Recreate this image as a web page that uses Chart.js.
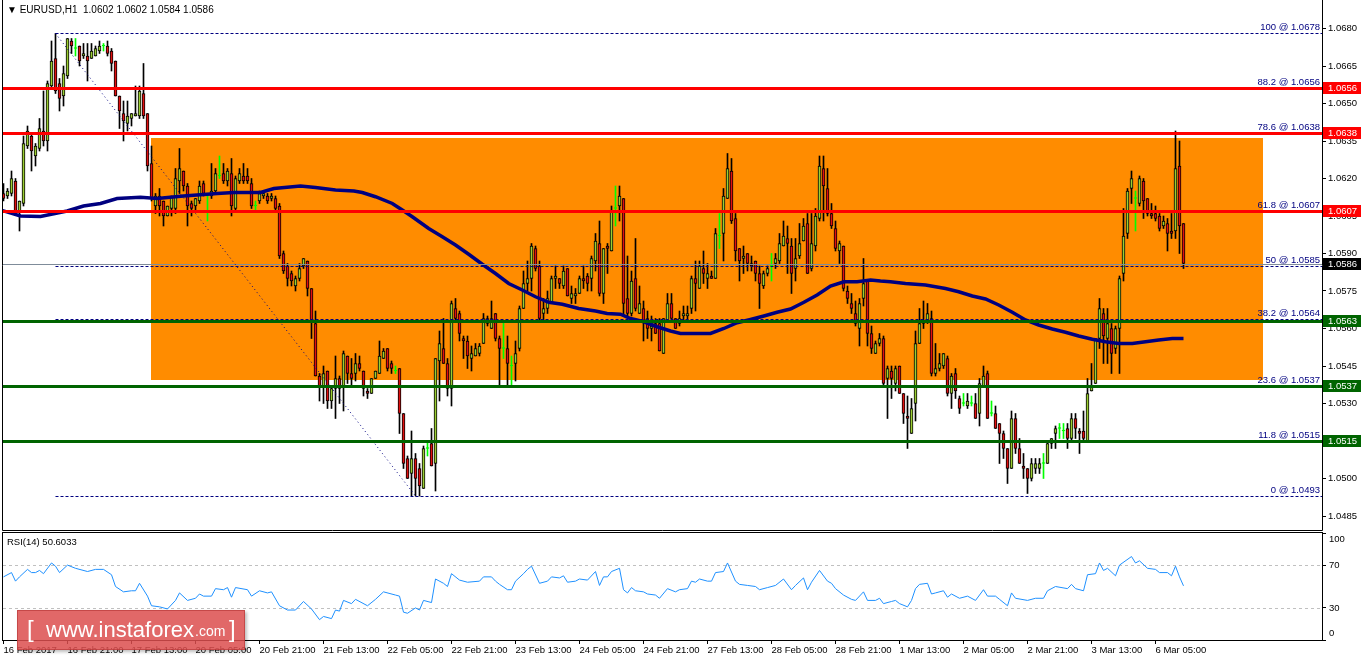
<!DOCTYPE html>
<html><head><meta charset="utf-8">
<script src="https://cdn.jsdelivr.net/npm/chart.js@4.4.1/dist/chart.umd.min.js"></script>
<style>
html,body{margin:0;padding:0;background:#fff;}
#wrap{position:relative;width:1362px;height:661px;overflow:hidden;font-family:"Liberation Sans",Arial,sans-serif;}
canvas{position:absolute;left:0;}
#c1{top:0;}
#c2{top:531px;}
.t{position:absolute;white-space:nowrap;color:#000;}
#wm{position:absolute;left:17px;top:610px;width:226px;height:38px;background:rgba(220,78,78,0.85);border:1px solid rgba(170,40,40,0.5);box-shadow:2px 2px 3px rgba(0,0,0,0.25);color:#fff;font-family:"Liberation Sans",Arial,sans-serif;}
#wm span{position:absolute;white-space:nowrap;}
</style></head><body>
<div id="wrap">
<canvas id="c1" width="1362" height="531"></canvas>
<canvas id="c2" width="1362" height="130"></canvas>
<div class="t" id="title" style="left:7px;top:4px;font-size:10px;"></div>
<div class="t" id="rsiLabel" style="left:7px;top:536px;font-size:9.5px;"></div>
<div id="wm"><span style="left:9px;top:4px;font-size:24px;font-weight:300;">[</span><span style="left:28px;top:6px;font-size:22px;">www.instaforex</span><span style="left:177px;top:12px;font-size:14px;">.com</span><span style="left:211px;top:4px;font-size:24px;font-weight:300;">]</span></div>
</div>
<script>
// ---------- DATA (prices in pips above 1.0000, e.g. 613 = 1.0613) ----------
const symbol = "EURUSD,H1";
const opens = [614,613,614,619,607,610,633,637,629,632,639,635,657,668,658,653,661,675,672,673,669,669,668,669,671,673,673,671,667,653,646,642,644,645,645,654,646,626,609,613,611,605,608,608,619,623,617,610,609,611,618,613,613,615,621,622,619,622,608,619,621,621,618,609,611,613,613,612,612,609,590,585,582,577,580,585,587,576,562,541,537,543,531,536,540,537,549,542,542,546,543,535,534,540,542,548,552,546,543,544,526,508,502,508,504,496,512,514,506,547,552,546,536,568,566,556,555,548,549,550,554,562,560,566,556,552,552,545,546,552,568,578,580,592,585,566,568,570,580,580,577,584,572,573,574,580,581,580,587,594,574,593,591,608,609,612,572,566,580,566,568,564,560,562,562,550,563,570,564,562,565,565,568,580,576,584,580,581,580,597,598,612,623,604,592,588,590,586,587,582,577,582,585,586,587,593,596,593,584,589,595,602,584,593,604,624,616,606,600,591,593,575,570,566,560,572,579,558,550,554,556,540,543,538,545,534,525,518,530,554,562,563,564,542,544,545,548,534,542,532,530,529,530,530,526,537,542,526,526,522,518,512,504,524,512,505,504,500,504,504,506,506,514,518,520,519,520,516,524,519,519,515,535,538,556,566,556,560,552,560,582,598,616,612,610,619,612,606,606,605,601,602,599,599,625,602];
const highs = [618,616,623,620,611,637,641,638,634,644,655,659,675,678,660,665,676,676,676,673,674,674,674,673,675,674,675,672,667,653,651,651,646,657,657,666,646,633,614,616,611,609,613,624,632,623,618,611,612,619,619,614,626,624,629,626,624,628,621,624,626,624,620,611,615,615,614,614,613,610,591,586,583,581,586,588,587,576,567,542,545,543,537,549,541,551,549,548,550,549,543,536,540,543,555,552,552,547,545,544,526,509,519,510,506,513,515,520,548,559,564,548,571,572,567,557,557,553,554,554,566,565,571,566,557,563,557,549,555,569,583,587,594,593,587,572,575,581,585,580,585,584,577,576,581,585,582,589,598,603,592,594,609,617,617,612,589,583,596,577,571,567,565,564,564,564,574,574,564,567,569,569,581,587,587,591,586,583,600,606,616,630,628,606,592,593,590,589,587,585,583,585,590,590,598,603,601,596,596,602,604,606,606,608,629,629,624,610,603,595,593,577,574,571,572,588,579,561,555,558,557,545,545,545,545,534,533,532,559,568,571,570,567,554,550,550,549,542,544,533,534,534,533,534,540,545,543,531,529,522,519,512,527,526,516,510,504,508,508,508,510,515,516,521,522,522,522,526,526,520,527,540,546,556,572,568,568,562,561,581,608,616,623,615,621,620,612,610,609,606,605,604,606,639,635,602];
const lows = [611,612,613,606,599,609,632,623,625,631,633,631,656,654,647,649,660,670,669,665,668,659,668,669,670,671,669,663,653,640,635,639,641,645,644,644,623,611,606,605,601,605,605,606,614,615,601,605,607,610,613,603,612,614,620,618,617,605,607,618,618,618,608,607,610,612,610,611,607,588,582,577,577,575,579,584,573,556,541,531,530,528,528,524,530,527,538,537,539,543,533,532,534,540,542,548,543,542,542,518,504,500,493,493,493,496,509,505,495,531,546,533,529,563,555,548,544,543,549,549,554,561,560,555,537,548,537,537,539,551,568,575,575,583,563,563,566,570,576,576,576,573,570,570,574,576,575,575,583,573,570,582,591,601,603,565,565,565,567,566,555,556,555,558,551,550,563,564,560,561,563,563,566,567,576,578,576,580,580,592,587,612,602,587,579,582,583,583,579,568,576,581,579,584,586,593,582,574,579,588,595,582,583,591,603,603,605,600,591,586,575,570,566,561,553,569,553,550,550,553,537,524,532,535,534,522,512,518,523,554,560,562,541,541,543,544,533,528,532,526,529,528,529,524,521,537,524,525,520,506,508,498,504,510,506,500,494,499,502,502,500,506,512,512,516,516,512,515,516,510,515,515,535,538,552,546,546,542,550,542,579,596,610,599,609,604,605,604,603,599,600,591,596,596,590,584];
const closes = [612,615,620,607,611,634,639,631,633,640,635,658,667,655,652,662,676,673,672,667,670,667,671,672,673,673,670,666,653,647,643,645,646,646,655,645,625,612,613,609,605,609,613,620,624,617,609,608,612,617,614,613,615,622,621,619,623,609,620,622,619,619,609,609,614,614,611,613,608,589,583,580,579,580,584,588,576,563,541,537,542,531,536,540,536,550,542,540,546,544,536,534,540,543,549,551,544,544,543,526,506,500,508,500,497,512,512,505,548,554,546,536,570,564,558,555,549,550,552,553,564,564,564,556,552,552,546,545,550,568,578,580,593,584,564,568,572,580,581,578,583,573,574,574,580,579,578,588,595,574,592,592,607,608,613,570,566,579,568,570,563,560,561,558,551,564,570,564,560,564,566,566,580,578,585,582,582,580,598,597,613,624,603,591,587,589,586,585,582,578,582,584,585,588,594,597,594,582,588,594,601,582,594,605,625,617,606,601,592,594,576,572,568,562,570,578,558,552,554,556,538,544,540,544,534,526,524,528,554,562,563,566,542,544,546,550,534,541,535,528,530,531,530,524,538,541,524,526,520,518,512,504,524,512,506,504,500,506,506,506,506,514,516,520,520,519,516,524,520,518,516,534,537,556,568,557,562,550,560,580,597,615,620,612,620,611,606,605,604,600,603,598,598,624,601,586];
// moving average: bar index / pips
const maBars = [-0.75,4.25,9.25,15.9,20,24.25,28.4,34.25,38.4,45,53.4,57.6,64.25,67.6,74.25,78,83,87.6,89.7,93,97.2,99.7,102.2,106.3,109.7,113,116.3,119.7,123,126.3,129.7,133,136.3,139.7,143.8,148,150.9,154.25,156.75,160.1,163.4,166.75,169.25,176.75,180.1,183.4,186.75,190.1,193.4,196.75,200.1,203.4,206.75,210.1,213.4,216.75,219.25,221.75,225.5,230.5,235.5,238.8,242.2,245.5,248.8,252.2,255.5,258.8,262.2,265.5,268.8,272.2,275.5,278.8,282.2,285.5,288.8,292.2,295];
const maVals = [607.4,605,604.8,607,609,610,612,612.5,612,613,614,614.4,614.4,616,617,616.4,615.4,615,614.4,612.7,610,607.4,604.7,600,596.7,593.4,589.7,585.7,582,578,575.4,572.7,570.5,569.7,568,567,566,565.7,564,562.7,560.7,559,558,558,560,562.3,563.6,565,566.5,567.8,570.5,573.4,577,578.7,578.7,579.4,579,578.7,578,577.4,576,574.7,573,571.8,569.4,566.5,563.4,561.4,559.8,558.5,557,555.7,554.7,554,554,554.7,555.4,556,556];
// RSI(14)
const rsiBars = [0,2,3,4,6,7,8,9,10,12,13,14,16,18,21,23,25,27,28,30,32,33,34,36,37,39,41,43,44,46,48,49,50,52,53,55,56,57,58,61,62,64,66,67,69,71,73,75,77,79,80,82,83,84,85,87,88,91,93,95,98,99,100,101,103,104,105,107,108,110,111,
112,114,116,119,120,122,123,124,126,127,128,130,131,132,134,136,137,139,140,141,143,144,146,148,149,150,151,152,154,155,156,157,158,160,161,163,164,166,168,169,171,172,173,174,176,177,178,180,181,183,184,186,188,189,191,193,195,197,198,200,201,202,204,206,207,208,210,212,213,215,216,218,219,220,222,223,224,
226,227,228,229,231,232,233,235,236,237,239,241,243,245,246,248,249,251,252,253,256,258,260,261,263,266,267,268,270,271,273,274,275,276,278,279,282,283,284,286,288,289,291,292,293,294,295];
const rsiVals = [59,63,55,59,66,63,63,65,62,72,69,63,70,67,64,66,66,61,50,45,46,46,53,41,32,31,29,37,44,37,39,43,41,41,48,47,49,40,49,47,41,46,44,45,32,28,28,36,29,19,22,20,28,27,37,34,38,32,38,45,42,41,26,25,30,28,37,35,57,53,50,
62,56,54,55,59,59,55,52,47,47,55,62,66,69,53,55,59,58,60,54,55,57,56,64,51,59,59,64,67,47,44,49,46,45,43,42,39,48,45,47,48,55,54,57,55,55,63,64,72,55,52,51,50,47,49,51,57,47,51,58,47,54,65,55,53,48,42,38,37,45,37,37,39,34,36,37,34,
31,37,48,52,53,43,44,46,40,43,39,41,37,47,41,41,38,32,44,39,37,39,39,46,50,48,52,48,46,61,62,72,65,67,60,70,78,72,74,67,66,63,63,60,69,59,50.6033];
const rsiLevels = [70, 30];
const rsiTicks = [0, 30, 70, 100];
// chart objects
const fibPct = [100, 88.2, 78.6, 61.8, 50, 38.2, 23.6, 11.8, 0];
const fibPrices = [1.0678, 1.0656, 1.0638, 1.0607, 1.0585, 1.0564, 1.0537, 1.0515, 1.0493];
const fibFromBar = 13;
const fibTrend = {bar1: 13, price1: 1.0678, bar2: 103, price2: 1.0493};
const resistanceLevels = [1.0656, 1.0638, 1.0607];
const supportLevels = [1.0563, 1.0537, 1.0515];
const rangeBox = {fromBar: 36.9, toBar: 314.8, top: 1.0636, bottom: 1.05394};
const priceTicks = [1.0680, 1.0665, 1.0650, 1.0635, 1.0620, 1.0605, 1.0590, 1.0575, 1.0560, 1.0545, 1.0530, 1.0515, 1.0500, 1.0485];
const timeTickBars = [0,16,32,48,64,80,96,112,128,144,160,176,192,208,224,240,256,272,288];
const timeTickLabels = ["16 Feb 2017","16 Feb 21:00","17 Feb 13:00","20 Feb 05:00","20 Feb 21:00","21 Feb 13:00","22 Feb 05:00","22 Feb 21:00","23 Feb 13:00","24 Feb 05:00","24 Feb 21:00","27 Feb 13:00","28 Feb 05:00","28 Feb 21:00","1 Mar 13:00","2 Mar 05:00","2 Mar 21:00","3 Mar 13:00","6 Mar 05:00"];

// ---------- helpers ----------
const px = v => 1 + v / 10000;
const fmt = v => v.toFixed(4);
const n = closes.length;
const last = n - 1;
const lastClose = px(closes[last]);
document.getElementById('title').textContent = '\u25BC ' + symbol + '\u00A0\u00A0' + [opens[last], highs[last], lows[last], closes[last]].map(v => fmt(px(v))).join(' ');
document.getElementById('rsiLabel').textContent = 'RSI(14) ' + rsiVals[rsiVals.length - 1].toFixed(4);

Chart.defaults.font.family = '"Liberation Sans", Arial, sans-serif';
Chart.defaults.font.size = 9.5;
Chart.defaults.color = '#000';
Chart.defaults.animation = false;

const X_MIN = -0.125, X_MAX = 329.625;
const BULL = '#9ACD32', BEAR = '#E01010', DOJI = '#00FF00';
const isDoji = i => opens[i] === closes[i];

const bodyData = closes.map((c, i) => ({x: i, y: [px(opens[i]), px(c)]}));
const wickData = closes.map((c, i) => ({x: i, y: [px(lows[i]), px(highs[i])]}));
const maData = maBars.map((b, i) => ({x: b, y: px(maVals[i])}));
const rsiData = rsiBars.map((b, i) => ({x: b, y: rsiVals[i]}));

function hline(ctx, x1, x2, y, color, w, dash) {
  ctx.save();
  ctx.strokeStyle = color; ctx.lineWidth = w; ctx.setLineDash(dash || []);
  const yy = Math.round(y) + 0.5;
  ctx.beginPath(); ctx.moveTo(x1, yy); ctx.lineTo(x2, yy); ctx.stroke();
  ctx.restore();
}
function frame(ctx, a, top) {
  ctx.save(); ctx.strokeStyle = '#000'; ctx.lineWidth = 1;
  ctx.beginPath();
  ctx.moveTo(a.left - 0.5, top); ctx.lineTo(a.left - 0.5, a.bottom + 0.5);
  ctx.lineTo(a.right + 0.5, a.bottom + 0.5); ctx.lineTo(a.right + 0.5, top);
  ctx.stroke(); ctx.restore();
}
const noPad = s => { s.paddingTop = 0; s.paddingBottom = 0; s.paddingLeft = 0; s.paddingRight = 0; };

const mainDecor = {
  id: 'mainDecor',
  beforeDatasetsDraw(chart) {
    const {ctx, scales: {x, y}} = chart;
    const x1 = Math.round(x.getPixelForValue(rangeBox.fromBar)), x2 = Math.round(x.getPixelForValue(rangeBox.toBar));
    const y1 = Math.round(y.getPixelForValue(rangeBox.top)), y2 = Math.round(y.getPixelForValue(rangeBox.bottom));
    ctx.save(); ctx.fillStyle = '#FF8C00'; ctx.fillRect(x1, y1, x2 - x1, y2 - y1); ctx.restore();
  },
  afterDatasetsDraw(chart) {
    const {ctx, chartArea: a, scales: {x, y}} = chart;
    hline(ctx, a.left, a.right, y.getPixelForValue(lastClose), '#7F8C9A', 1);
    const fx = x.getPixelForValue(fibFromBar);
    fibPrices.forEach(p => hline(ctx, fx, a.right, y.getPixelForValue(p), '#000080', 1, [3, 2]));
    ctx.save(); ctx.strokeStyle = '#000080'; ctx.lineWidth = 1; ctx.setLineDash([1, 3]);
    ctx.beginPath();
    ctx.moveTo(x.getPixelForValue(fibTrend.bar1), y.getPixelForValue(fibTrend.price1));
    ctx.lineTo(x.getPixelForValue(fibTrend.bar2), y.getPixelForValue(fibTrend.price2));
    ctx.stroke(); ctx.restore();
    resistanceLevels.forEach(p => hline(ctx, a.left, a.right, y.getPixelForValue(p), '#FF0000', 3));
    supportLevels.forEach(p => hline(ctx, a.left, a.right, y.getPixelForValue(p), '#006400', 3));
    ctx.save(); ctx.fillStyle = '#000080'; ctx.font = '9.5px "Liberation Sans", Arial, sans-serif';
    ctx.textAlign = 'right'; ctx.textBaseline = 'bottom';
    fibPrices.forEach((p, i) => ctx.fillText(fibPct[i] + ' @ ' + fmt(p), a.right - 2, Math.round(y.getPixelForValue(p)) - 1));
    ctx.restore();
  },
  afterDraw(chart) {
    const {ctx, chartArea: a, scales: {y}} = chart;
    frame(ctx, a, 0);
    ctx.save();
    const box = (p, bg) => {
      const yy = Math.round(y.getPixelForValue(p));
      ctx.fillStyle = bg; ctx.fillRect(a.right + 1, yy - 6, 38, 12);
      ctx.fillStyle = '#fff'; ctx.font = '9.5px "Liberation Sans", Arial, sans-serif';
      ctx.textAlign = 'left'; ctx.textBaseline = 'middle';
      ctx.fillText(fmt(p), a.right + 6, yy + 0.5);
    };
    resistanceLevels.forEach(p => box(p, '#FF0000'));
    supportLevels.forEach(p => box(p, '#006400'));
    box(lastClose, '#000000');
    ctx.restore();
  }
};

new Chart(document.getElementById('c1'), {
  type: 'bar',
  data: {
    datasets: [
      {type: 'line', data: maData, borderColor: '#000080', borderWidth: 3.5, pointRadius: 0, tension: 0, order: 1},
      {type: 'bar', data: bodyData, grouped: false, barThickness: 3, minBarLength: 1, borderWidth: 1, borderSkipped: false,
        borderColor: c => isDoji(c.dataIndex) ? DOJI : '#000',
        backgroundColor: c => isDoji(c.dataIndex) ? DOJI : (closes[c.dataIndex] > opens[c.dataIndex] ? BULL : BEAR), order: 2},
      {type: 'bar', data: wickData, grouped: false, barThickness: 1, borderWidth: 0,
        backgroundColor: c => isDoji(c.dataIndex) ? DOJI : '#000', order: 3}
    ]
  },
  options: {
    responsive: false, animation: false,
    layout: {padding: {left: 3, top: 5, right: 0, bottom: 1}},
    plugins: {legend: {display: false}, tooltip: {enabled: false}},
    scales: {
      x: {type: 'linear', display: false, min: X_MIN, max: X_MAX, offset: false},
      y: {position: 'right', min: 1.04794, max: 1.06894,
        afterFit: s => { s.width = 40; noPad(s); },
        afterBuildTicks: s => { s.ticks = priceTicks.map(v => ({value: v})); },
        ticks: {callback: v => fmt(v), padding: 2, color: '#000', font: {size: 9.5}},
        grid: {drawOnChartArea: false, drawTicks: true, tickLength: 4, tickColor: '#000'},
        border: {display: false}}
    }
  },
  plugins: [mainDecor]
});

const rsiDecor = {
  id: 'rsiDecor',
  beforeDatasetsDraw(chart) {
    const {ctx, chartArea: a, scales: {y}} = chart;
    rsiLevels.forEach(l => hline(ctx, a.left, a.right, y.getPixelForValue(l), '#C0C0C0', 1, [3, 3]));
  },
  afterDraw(chart) {
    const {ctx, chartArea: a, scales: {y}} = chart;
    ctx.save(); ctx.strokeStyle = '#000'; ctx.lineWidth = 1;
    ctx.strokeRect(a.left - 0.5, a.top - 0.5, a.right - a.left + 1, a.bottom - a.top + 1);
    // axis labels kept inside the panel, as the terminal does
    ctx.fillStyle = '#000'; ctx.font = '9.5px "Liberation Sans", Arial, sans-serif';
    ctx.textAlign = 'left'; ctx.textBaseline = 'middle';
    rsiTicks.forEach(t => {
      const p = Math.min(Math.max(y.getPixelForValue(t), a.top + 6), a.bottom - 7);
      ctx.fillText(String(t), a.right + 7, p);
    });
    ctx.restore();
  }
};

new Chart(document.getElementById('c2'), {
  type: 'line',
  data: {datasets: [{data: rsiData, borderColor: '#1E90FF', borderWidth: 1, pointRadius: 0, tension: 0}]},
  options: {
    responsive: false, animation: false,
    layout: {padding: {left: 3, top: 2, right: 0, bottom: 0}},
    plugins: {legend: {display: false}, tooltip: {enabled: false}},
    scales: {
      x: {type: 'linear', min: X_MIN, max: X_MAX, offset: false,
        afterFit: s => { s.height = 21; noPad(s); },
        afterBuildTicks: s => { s.ticks = timeTickBars.map(v => ({value: v})); },
        ticks: {callback: (v) => timeTickLabels[timeTickBars.indexOf(v)], align: 'start', maxRotation: 0, autoSkip: false, padding: 1, color: '#000', font: {size: 9.5}},
        grid: {drawOnChartArea: false, drawTicks: true, tickLength: 4, tickColor: '#000'},
        border: {display: false}},
      y: {position: 'right', min: 0, max: 100,
        afterFit: s => { s.width = 40; noPad(s); },
        afterBuildTicks: s => { s.ticks = rsiTicks.map(v => ({value: v})); },
        ticks: {display: false},
        grid: {drawOnChartArea: false, drawTicks: true, tickLength: 4, tickColor: '#000'},
        border: {display: false}}
    }
  },
  plugins: [rsiDecor]
});
</script>
</body></html>
